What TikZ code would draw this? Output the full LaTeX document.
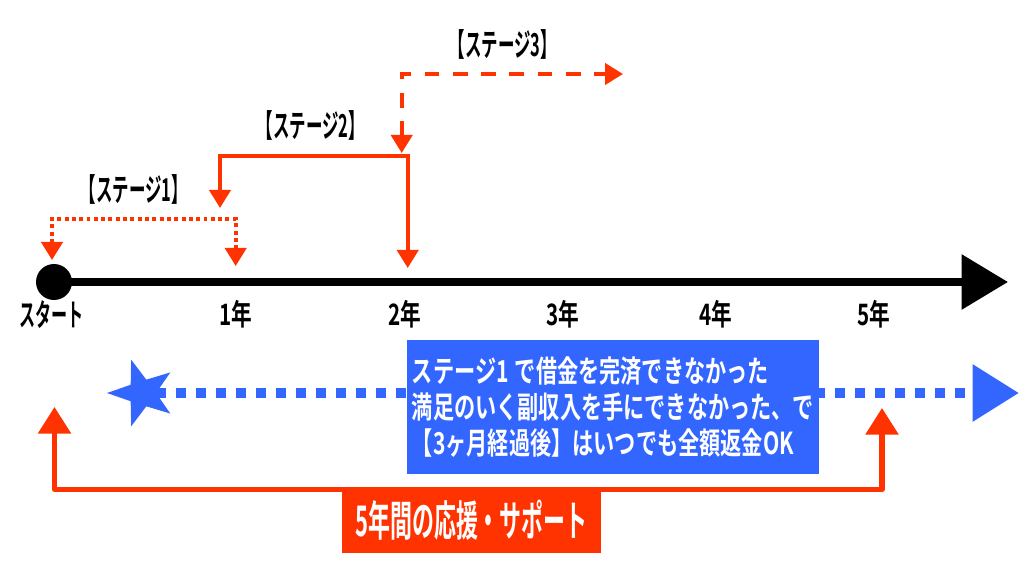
\documentclass[tikz,border=0pt]{standalone}
\usepackage{fontspec}
\usetikzlibrary{arrows.meta,shapes.geometric}
\newfontfamily\jpa{Noto Sans CJK JP Bold}[FakeStretch=0.52]
\newfontfamily\jpb{Noto Sans CJK JP Bold}[FakeStretch=0.7]
\definecolor{sred}{RGB}{255,51,0}
\definecolor{sblue}{RGB}{51,102,255}
\begin{document}
\begin{tikzpicture}[x=0.025cm,y=-0.025cm,
    yr/.style={font=\jpb\fontsize{21}{23}\selectfont,inner sep=0pt},
    stg/.style={font=\jpa\fontsize{22.5}{25}\selectfont,inner sep=0pt},
    stgline/.style={sred,line width=2.7pt,>={Triangle[length=12.8pt,width=15pt]},<->},
    backing/.style={sred,line width=3.6pt,line join=round,>={Triangle[length=19pt,width=23pt]},<->}]
\useasboundingbox (0,0) rectangle (1024,576);
% time axis
\node[circle,fill=black,inner sep=0pt,minimum size=25.6pt] (start) at (54,282) {};
\coordinate (axend) at (1008,282);
\draw[line width=5.7pt,-{Triangle[length=33pt,width=38pt]}] (start.center) -- (axend);
\node[yr,font=\jpa\fontsize{22}{24}\selectfont] (y0) at (51.5,315) {スタート};
\node[yr] (y1) at (235.5,314) {1年};
\node[yr] (y2) at (405,314) {2年};
\node[yr] (y3) at (563,314) {3年};
\node[yr] (y4) at (716,314) {4年};
\node[yr] (y5) at (874,314) {5年};
% stages
\coordinate (a0) at (52,260);
\coordinate (a1) at (52,219);
\coordinate (a2) at (235.7,219);
\coordinate (a3) at (235.7,266);
\draw[stgline,dash pattern=on 2.8pt off 2.4pt] (a0) -- (a1) -- (a2) -- (a3);
\node[stg] (s1) at (134,189) {【ステージ1】};
\coordinate (b0) at (220,208);
\coordinate (b1) at (220,155.7);
\coordinate (b2) at (407.7,155.7);
\coordinate (b3) at (407.7,268);
\draw[stgline] (b0) -- (b1) -- (b2) -- (b3);
\node[stg] (s2) at (311,125) {【ステージ2】};
\coordinate (c0) at (401.7,153);
\coordinate (c1) at (401.7,74);
\coordinate (c2) at (623,74);
\draw[stgline,dash pattern=on 10.5pt off 9.6pt] (c0) -- (c1) -- (c2);
\node[stg] (s3) at (503,44) {【ステージ3】};
% refund
\node[star,star points=5,star point ratio=2.5,shape border rotate=90,fill=sblue,inner sep=0pt,minimum size=49.8pt] (star) at (142,393) {};
\coordinate (rend) at (1019,393);
\draw[sblue,line width=7.1pt,dash pattern=on 7.1pt off 7.1pt,-{Triangle[length=33pt,width=39pt]}] (star) -- (rend);
\node[fill=sblue,text=white,align=left,inner sep=0pt,minimum width=293pt,minimum height=94.6pt,
      font=\jpb\fontsize{21.5}{25.5}\selectfont] (refund) at (613,407)
      {ステージ1\hspace{1pt} で借金を完済できなかった\\満足のいく副収入を手にできなかった、で\\【3ヶ月経過後】はいつでも全額返金OK};
% support
\coordinate (d0) at (54.5,407);
\coordinate (d1) at (54.5,489.5);
\coordinate (d2) at (882,489.5);
\coordinate (d3) at (882,408);
\draw[backing] (d0) -- (d1) -- (d2) -- (d3);
\node[fill=sred,text=white,inner sep=0pt,minimum width=184pt,minimum height=47pt,
      font=\jpa\fontsize{30}{32}\selectfont] (support) at (471.5,520) {5年間の応援・サポート};
\end{tikzpicture}
\end{document}
